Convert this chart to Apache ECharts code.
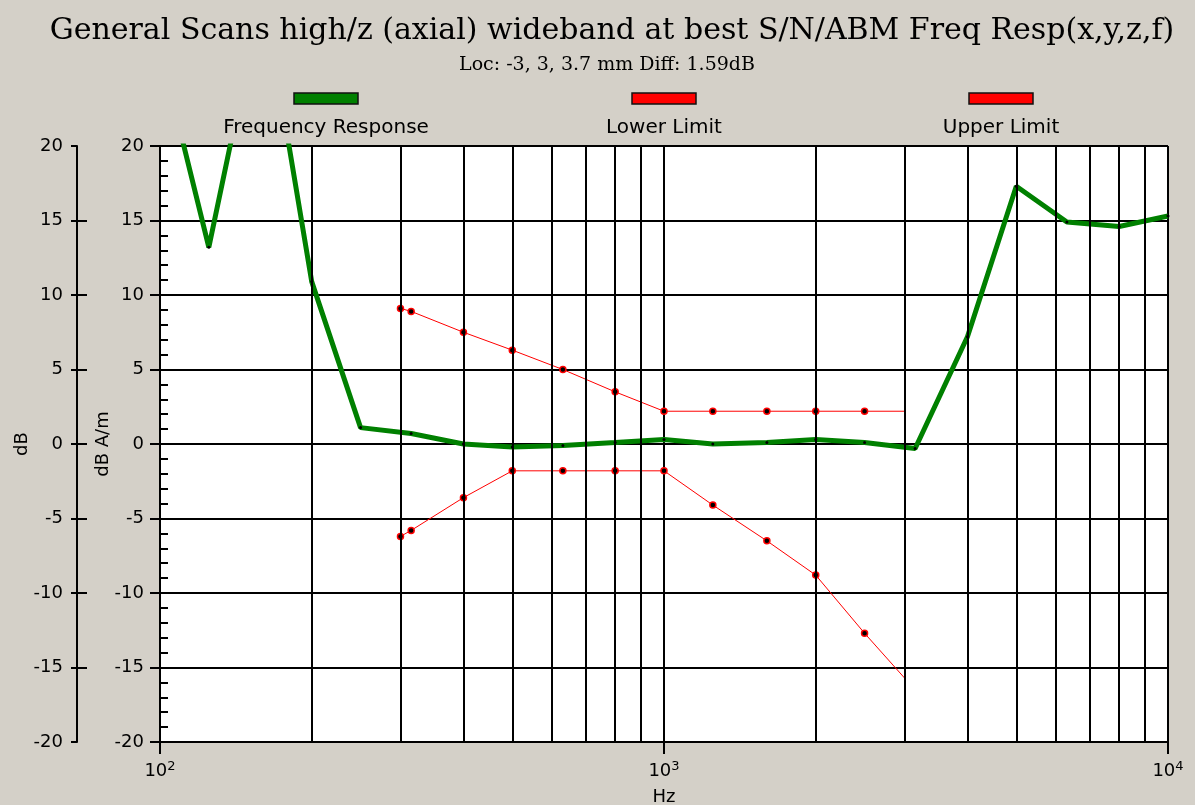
<!DOCTYPE html>
<html>
<head>
<meta charset="utf-8">
<script src="https://cdn.jsdelivr.net/npm/echarts@6/dist/echarts.min.js"></script>
<style>
  html, body { margin: 0; padding: 0; background: #d4d0c8; }
  #chart { width: 1195px; height: 805px; }
</style>
</head>
<body>
<div id="chart"></div>
<script>
// Measured frequency response (1/3-octave points), dB A/m
const responseHz = [100, 125, 160, 200, 250, 315, 400, 500, 630, 800, 1000, 1250, 1600, 2000, 2500, 3150, 4000, 5000, 6300, 8000, 10000];
const responseDb = [26.5, 13.2, 30.5, 10.9, 1.1, 0.7, 0.0, -0.2, -0.1, 0.1, 0.3, 0.0, 0.1, 0.3, 0.1, -0.3, 7.2, 17.3, 14.9, 14.6, 15.3];

// Tolerance mask
const limitHz = [300, 315, 400, 500, 630, 800, 1000, 1250, 1600, 2000, 2500, 3000];
const upperLimitDb = [9.1, 8.9, 7.5, 6.3, 5.0, 3.5, 2.2, 2.2, 2.2, 2.2, 2.2, 2.2];
const lowerLimitDb = [-6.2, -5.8, -3.6, -1.8, -1.8, -1.8, -1.8, -4.1, -6.5, -8.8, -12.7, -15.7];

// Intermediate log-decade grid lines
const gridHz = [200, 300, 400, 500, 600, 700, 800, 900, 2000, 3000, 4000, 5000, 6000, 7000, 8000, 9000];
const outerMajorTicks = [-15, -10, -5, 0, 5, 10, 15];

const legendNames = ['Frequency Response', 'Lower Limit', 'Upper Limit'];
const legendColors = ['#008000', '#ff0000', '#ff0000'];

const TITLE = 'General Scans high/z (axial) wideband at best S/N/ABM Freq Resp(x,y,z,f)';
const SUBTITLE = 'Loc: -3, 3, 3.7 mm Diff: 1.59dB';

const SANS = 'DejaVu Sans';
const SERIF = 'DejaVu Serif';

const zip = (xs, ys) => xs.map((x, i) => [x, ys[i]]);
// The mask's closing point carries no marker
const limitData = ys => limitHz.map((x, i) =>
  i === limitHz.length - 1 ? { value: [x, ys[i]], symbol: 'none' } : [x, ys[i]]);

const legendCenters = [326, 664, 1001];
const legendGraphics = [];
legendNames.forEach((name, i) => {
  legendGraphics.push({
    type: 'rect',
    shape: { x: legendCenters[i] - 32, y: 93, width: 64, height: 11 },
    style: { fill: legendColors[i], stroke: '#111', lineWidth: 1.5 }
  });
  legendGraphics.push({
    type: 'text', x: legendCenters[i], y: 128,
    style: { text: name, fill: '#000', font: '20px "' + SANS + '"', textAlign: 'center', textVerticalAlign: 'middle' }
  });
});

const chart = echarts.init(document.getElementById('chart'));
const black2 = { color: '#000', width: 2 };
const plotRect = { left: 160, right: 27, top: 146, bottom: 63, outerBoundsMode: 'none', containLabel: false };
const tickFont = { fontFamily: SANS, fontSize: 18, color: '#000' };

// Grid 0 holds the data; grids 1-3 share its rectangle and only carry extra y-axis decorations
const grids = [0, 1, 2, 3].map(i => Object.assign({}, plotRect,
  i === 0 ? { show: true, backgroundColor: '#fff', borderWidth: 0 } : { show: false }));

const hiddenX = i => ({ type: 'value', gridIndex: i, show: false, min: 1, max: 2 });

chart.setOption({
  animation: false,
  backgroundColor: '#d4d0c8',
  graphic: [
    { type: 'text', x: 612, y: 31,
      style: { text: TITLE, fill: '#000', font: '30px "' + SERIF + '"', textAlign: 'center', textVerticalAlign: 'middle' } },
    { type: 'text', x: 607, y: 65,
      style: { text: SUBTITLE, fill: '#000', font: '19px "' + SERIF + '"', textAlign: 'center', textVerticalAlign: 'middle' } }
  ].concat(legendGraphics),
  grid: grids,
  xAxis: [
    {
      type: 'log', logBase: 10, min: 100, max: 10000, gridIndex: 0,
      name: 'Hz', nameLocation: 'middle', nameGap: 46, nameMoveOverlap: false,
      nameTextStyle: tickFont,
      axisLine: { onZero: false, lineStyle: black2 },
      axisTick: { show: true, length: 12, lineStyle: black2 },
      axisLabel: Object.assign({
        margin: 18,
        formatter: v => '{b|10}{s|' + Math.round(Math.log10(v)) + '}',
        rich: {
          b: { fontFamily: SANS, fontSize: 18, color: '#000', lineHeight: 20, verticalAlign: 'bottom' },
          s: { fontFamily: SANS, fontSize: 13, color: '#000', lineHeight: 20, verticalAlign: 'top', padding: [0, 0, 6, 0] }
        }
      }, tickFont),
      splitLine: { show: true, lineStyle: black2 },
      minorTick: { show: false }, minorSplitLine: { show: false }
    },
    hiddenX(1), hiddenX(2), hiddenX(3)
  ],
  yAxis: [
    { // inner dB A/m axis
      type: 'value', gridIndex: 0, position: 'left', min: -20, max: 20, interval: 5,
      name: 'dB A/m', nameLocation: 'middle', nameGap: 48, nameMoveOverlap: false,
      nameTextStyle: tickFont,
      axisLine: { show: true, onZero: false, lineStyle: black2 },
      axisTick: { show: true, length: 10, lineStyle: black2 },
      axisLabel: Object.assign({ margin: 16 }, tickFont),
      splitLine: { show: true, lineStyle: black2 }
    },
    { // inner axis minor ticks, pointing into the plot
      type: 'value', gridIndex: 1, position: 'left', min: -20, max: 20, interval: 5,
      axisLine: { show: false, onZero: false },
      axisTick: { show: true, inside: true, length: 8, lineStyle: black2 },
      minorTick: { show: true, splitNumber: 5, length: 8, lineStyle: black2 },
      axisLabel: { show: false },
      splitLine: { show: false }
    },
    { // outer dB axis
      type: 'value', gridIndex: 2, position: 'left', offset: 83, min: -20, max: 20, interval: 5,
      name: 'dB', nameLocation: 'middle', nameGap: 46, nameMoveOverlap: false,
      nameTextStyle: tickFont,
      axisLine: { show: true, onZero: false, lineStyle: black2 },
      axisTick: { show: true, length: 6, lineStyle: black2 },
      axisLabel: Object.assign({ margin: 14 }, tickFont),
      splitLine: { show: false }
    },
    { // outer axis ticks crossing to the right
      type: 'value', gridIndex: 3, position: 'left', offset: 83, min: -20, max: 20, interval: 5,
      axisLine: { show: false, onZero: false },
      axisTick: { show: true, inside: true, length: 10, customValues: outerMajorTicks, lineStyle: black2 },
      axisLabel: { show: false },
      splitLine: { show: false }
    }
  ],
  series: [
    {
      name: 'grid', type: 'line', data: [], z: 1, silent: true,
      markLine: {
        silent: true, symbol: ['none', 'none'], label: { show: false },
        lineStyle: { color: '#000', width: 2, type: 'solid' },
        emphasis: { disabled: true },
        data: gridHz.map(f => ({ xAxis: f }))
      }
    },
    {
      name: legendNames[0], type: 'line', z: 3, clip: true,
      data: zip(responseHz, responseDb),
      lineStyle: { color: legendColors[0], width: 5 },
      symbol: 'circle', symbolSize: 3,
      itemStyle: { color: '#000', borderWidth: 0 },
      emphasis: { disabled: true }
    },
    {
      name: legendNames[1], type: 'line', z: 4,
      data: limitData(lowerLimitDb),
      lineStyle: { color: legendColors[1], width: 1 },
      symbol: 'circle', symbolSize: 6,
      itemStyle: { color: '#000', borderColor: '#ff0000', borderWidth: 1.5 },
      emphasis: { disabled: true }
    },
    {
      name: legendNames[2], type: 'line', z: 4,
      data: limitData(upperLimitDb),
      lineStyle: { color: legendColors[2], width: 1 },
      symbol: 'circle', symbolSize: 6,
      itemStyle: { color: '#000', borderColor: '#ff0000', borderWidth: 1.5 },
      emphasis: { disabled: true }
    }
  ]
});
</script>
</body>
</html>
